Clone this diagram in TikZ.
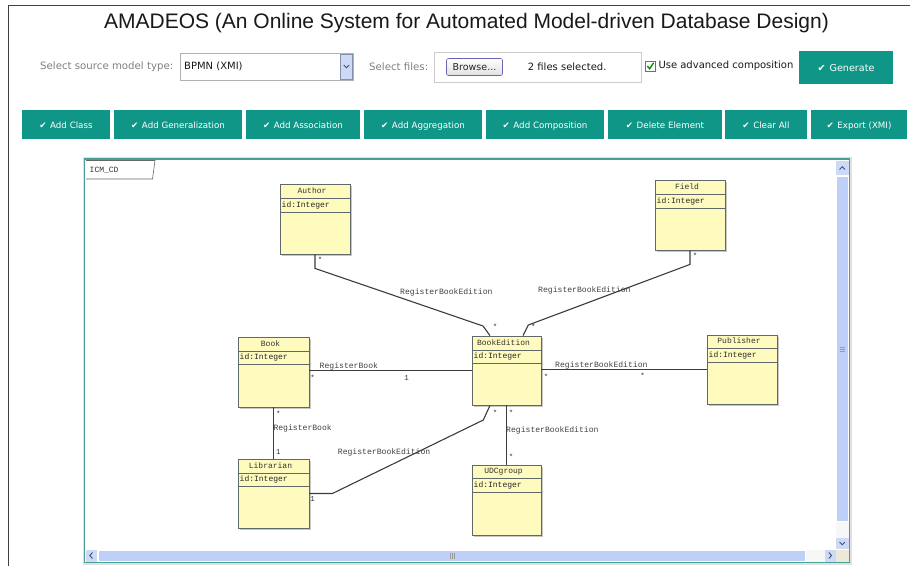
\documentclass[tikz,border=0pt]{standalone}
\usepackage{fontspec}
\setmainfont{Liberation Sans}
\newfontfamily\uifont{DejaVu Sans}
\newfontfamily\monofont{Liberation Mono}
\usetikzlibrary{fit,calc}
\definecolor{tealbtn}{RGB}{16,150,134}
\definecolor{clsfill}{RGB}{255,251,190}
\definecolor{clsdraw}{RGB}{95,105,105}
\definecolor{framec}{RGB}{70,160,150}
\definecolor{sbtrack}{RGB}{190,208,248}
\definecolor{sbbtn}{RGB}{205,218,246}
\definecolor{sbarrow}{RGB}{60,80,130}
\definecolor{linec}{RGB}{60,60,60}
\definecolor{cornerc}{RGB}{236,233,216}
\tikzset{
  uilabel/.style={font=\uifont\fontsize{10.2}{12}\selectfont, text=black!50, inner sep=0pt, anchor=west},
  uitext/.style={font=\uifont\fontsize{10}{12}\selectfont, text=black!90, inner sep=0pt, anchor=west},
  btnbg/.style={fill=tealbtn, inner sep=0pt},
  btntext/.style={text=white, font=\uifont\fontsize{8.7}{10}\selectfont, inner sep=0pt, text height=6.6pt, text depth=1.8pt},
  clsbox/.style={fill=clsfill, draw=clsdraw, line width=0.8pt, inner sep=0pt},
  clssep/.style={draw=clsdraw, line width=0.7pt},
  clstitle/.style={font=\monofont\fontsize{8}{9}\selectfont, text=black!80, inner sep=0pt, text height=5.8pt, text depth=1.6pt},
  clsattr/.style={font=\monofont\fontsize{8}{9}\selectfont, text=black!85, inner sep=0pt, anchor=west},
  assoc/.style={draw=linec, line width=1.1pt},
  rolelbl/.style={font=\monofont\fontsize{8.1}{9}\selectfont, text=black!75, inner sep=0pt, anchor=west},
  mult/.style={font=\monofont\fontsize{7.5}{8}\selectfont, text=black!80, inner sep=0pt},
  chev/.style={draw=sbarrow, line width=0.9pt}
}
\newcommand\uibtn[4]{\node[btnbg, fit={(#2,110) (#3,139)}] (#1) {};
  \node[btntext] (#1-t) at ([yshift=-1.6pt]#1.center) {\char"2714\hspace{3.5pt}#4};}
\newcommand\umlclass[8]{%
  \fill[black!22] ({#2+1.5},{#3+1.5}) rectangle ({#4+1.5},{#5+1.5});
  \node[clsbox, fit={(#2,#3) (#4,#5)}] (#1) {};
  \draw[clssep] (#2,#6) -- (#4,#6) (#2,#7) -- (#4,#7);
  \node[clstitle] (#1-title) at ({(#2+#4)/2-3},{(#3+#6)/2}) {#8};
  \node[clsattr] (#1-attr) at ({#2+1.5},{(#6+#7)/2}) {id:Integer};
}
\begin{document}
\begin{tikzpicture}[x=1pt,y=-1pt]
\useasboundingbox (0,0) rectangle (910,566);
\fill[white] (0,0) rectangle (910,566);
\draw[black!75, line width=1pt] (8,566) -- (8,5) -- (910,5);

% title
\node[font=\fontsize{21}{25}\selectfont, text=black!90, inner sep=0pt] (title) at (466.5,23) {AMADEOS (An Online System for Automated Model-driven Database Design)};

% controls row
\node[uilabel] (srclbl) at (40,67) {Select source model type:};
\node[draw=black!30, fill=white, fit={(180,53) (353,80)}, inner sep=0pt] (selbox) {};
\node[uitext] (seltxt) at (184,66.5) {BPMN (XMI)};
\node[fill=sbbtn, draw=sbtrack!70!black, line width=0.4pt, fit={(340.5,54) (352.5,79)}, inner sep=0pt] (seldd) {};
\draw[chev] (343.8,65) -- (346.5,67.7) -- (349.2,65);
\node[uilabel] (fileslbl) at (369,67) {Select files:};
\node[draw=black!20, fill=white, fit={(434,52.5) (641,82.5)}, inner sep=0pt] (filebox) {};
\node[draw=black!50!blue!60, rounded corners=2pt, top color=white, bottom color=black!12, line width=0.6pt,
      fit={(446.5,58.5) (502.5,75.5)}, inner sep=0pt] (browse) {};
\node[font=\uifont\fontsize{9.5}{11}\selectfont, inner sep=0pt, text=black!85] (browse-t) at (browse.center) {Browse...};
\node[uitext] (filestxt) at (527.7,67) {2 files selected.};
\node[draw=black!40!blue!60, fill=white, line width=0.6pt, fit={(645,61) (655.5,71.5)}, inner sep=0pt] (chk) {};
\draw[green!55!black, line width=1.3pt] (647.3,66) -- (649.6,68.8) -- (653.6,62.8);
\node[uitext] (advtxt) at (658.3,66) {Use advanced composition};
\node[btnbg, fit={(799,51) (893,84)}] (generate) {};
\node[btntext, font=\uifont\fontsize{9.6}{11}\selectfont, text height=7.2pt, text depth=2pt] (generate-t) at ([yshift=-1.2pt]generate.center) {\char"2714\hspace{4pt}Generate};

% button row
\uibtn{bclass}{22}{110}{Add Class}
\uibtn{bgen}{114}{242}{Add Generalization}
\uibtn{bassoc}{246}{360}{Add Association}
\uibtn{baggr}{364}{482}{Add Aggregation}
\uibtn{bcomp}{486}{604}{Add Composition}
\uibtn{bdel}{608}{722}{Delete Element}
\uibtn{bclear}{725}{807}{Clear All}
\uibtn{bexport}{811}{907}{Export (XMI)}

% diagram frame
\fill[black!12] (82.5,156.5) rectangle (851.5,564.5);
\draw[framec, line width=1.5pt, fill=white] (84.5,159) rectangle (849.5,562.5);
\draw[black!60, line width=0.6pt, fill=white] (86,160.5) -- (155,160.5) -- (152.5,179) -- (86,179);
\node[font=\monofont\fontsize{8}{9}\selectfont, text=black!80, inner sep=0pt, anchor=west] (tab) at (89.5,170) {ICM\_CD};

% vertical scrollbar
\fill[sbbtn] (836,160.5) rectangle (848.5,175);
\draw[chev] (839.5,169.5) -- (842.2,166.8) -- (844.9,169.5);
\fill[sbtrack] (836,175.5) rectangle (848.5,522);
\draw[white, line width=0.6pt] (836.5,176) rectangle (848,521.5);
\fill[black!3] (836,522) rectangle (848.5,538);
\fill[sbbtn] (836,538) rectangle (848.5,549);
\draw[chev] (839.5,542) -- (842.2,544.7) -- (844.9,542);
\draw[black!40, line width=0.4pt] (839.5,347.5) -- (845,347.5) (839.5,349.5) -- (845,349.5) (839.5,351.5) -- (845,351.5);
% horizontal scrollbar
\fill[sbbtn] (85.5,549.5) rectangle (97,561.5);
\draw[chev] (92.5,552.5) -- (89.8,555.5) -- (92.5,558.5);
\fill[sbtrack] (97.5,549.5) rectangle (806,561.5);
\draw[white, line width=0.6pt] (98,550) rectangle (805.5,561);
\fill[black!3] (806,549.5) rectangle (825,561.5);
\fill[sbbtn] (825,549.5) rectangle (836,561.5);
\draw[chev] (828.8,552.5) -- (831.5,555.5) -- (828.8,558.5);
\fill[cornerc] (836,549.5) rectangle (848.5,561.5);
\draw[black!40, line width=0.4pt] (450,552.5) -- (450,558.5) (452,552.5) -- (452,558.5) (454,552.5) -- (454,558.5);

% classes
\umlclass{Author}{280}{184}{350}{254}{198}{212}{Author}
\umlclass{Field}{655}{180}{725}{250}{194}{208}{Field}
\umlclass{Book}{238}{337}{309}{407}{351}{364}{Book}
\umlclass{BookEdition}{472}{336}{541}{405}{350}{363}{BookEdition}
\umlclass{Publisher}{707}{335}{777}{404}{348}{362}{Publisher}
\umlclass{Librarian}{238}{459}{309}{528}{473}{486}{Librarian}
\umlclass{UDCgroup}{472}{465}{541}{535}{478}{492}{UDCgroup}

% associations
\draw[assoc] (Author.south) -- ++(0,14) -- (483,326) -- ([xshift=-16.5pt]BookEdition.north);
\draw[assoc] (Field.south) -- ++(0,14) -- (528.3,325) -- ([xshift=16.5pt]BookEdition.north);
\draw[assoc] (Book.east |- BookEdition.west) -- (BookEdition.west);
\draw[assoc] (BookEdition.east |- Publisher.west) -- (Publisher.west);
\draw[assoc] (Book.south) -- (Librarian.north);
\draw[assoc] (Librarian.east) -- ++(23,0) -- (483.3,420) -- ([xshift=-16.5pt]BookEdition.south);
\draw[assoc] (BookEdition.south) -- (UDCgroup.north);

% role names
\node[rolelbl] (r1) at (400,292) {RegisterBookEdition};
\node[rolelbl] (r2) at (538,290) {RegisterBookEdition};
\node[rolelbl] (r3) at (319.5,366) {RegisterBook};
\node[rolelbl] (r4) at (555,365) {RegisterBookEdition};
\node[rolelbl] (r5) at (273.3,428) {RegisterBook};
\node[rolelbl] (r6) at (337.7,452) {RegisterBookEdition};
\node[rolelbl] (r7) at (506,430) {RegisterBookEdition};

% multiplicities
\node[mult] (m1) at (320,260) {*};
\node[mult] (m2) at (495,327) {*};
\node[mult] (m3) at (695,256) {*};
\node[mult] (m4) at (533.3,327) {*};
\node[mult] (m5) at (312.7,377.5) {*};
\node[mult] (m6) at (406.7,377.7) {1};
\node[mult] (m7) at (546,377) {*};
\node[mult] (m8) at (642.7,376) {*};
\node[mult] (m9) at (278.3,413.5) {*};
\node[mult] (m10) at (278.3,451.7) {1};
\node[mult] (m11) at (312.7,499) {1};
\node[mult] (m12) at (495,412.5) {*};
\node[mult] (m13) at (511,412.5) {*};
\node[mult] (m14) at (511,457) {*};
\end{tikzpicture}
\end{document}
